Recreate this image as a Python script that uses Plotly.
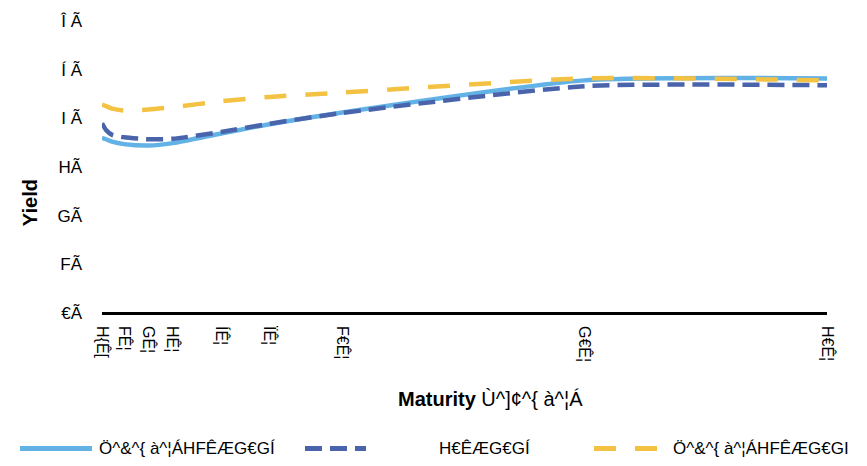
import plotly.graph_objects as go

# Maturities in years and the three yield curves (percent)
maturities = [1/12, 0.25, 0.5, 1, 2, 3, 5, 7, 10, 20, 30]
curve_a = [3.60, 3.57, 3.52, 3.47, 3.44, 3.49, 3.69, 3.88, 4.12, 4.78, 4.82]
curve_b = [3.90, 3.76, 3.66, 3.61, 3.57, 3.58, 3.72, 3.89, 4.11, 4.66, 4.68]
curve_c = [4.28, 4.25, 4.20, 4.16, 4.18, 4.23, 4.35, 4.44, 4.53, 4.82, 4.78]

series_names = ["Ö^&^{ à^¦ÁHFÊÆG€GÍ", "H€ÊÆG€GÍ", "Ö^&^{ à^¦ÁHFÊÆG€GI"]

x_tickvals = [1/12, 1, 2, 3, 5, 7, 10, 20, 30]
x_ticktext = ["H{Ê[", "FÊ¦", "GÊ¦", "HÊ¦", "ÍÊ¦", "ÏÊ¦", "F€Ê¦", "G€Ê¦", "H€Ê¦"]
y_tickvals = [0, 1, 2, 3, 4, 5, 6]
y_ticktext = ["€Ã", "FÃ", "GÃ", "HÃ", "I Ã", "Í Ã", "Î Ã"]

x_title = "<b>Maturity</b> Ù^]¢^{ à^¦Á"
y_title = "<b>Yield</b>"

FONT = "Liberation Sans, Arial, sans-serif"
colors = ["#62B2E6", "#4A64AC", "#F4C242"]
dashes = ["solid", "17px,8px", "22px,19px"]

fig = go.Figure()
for vals, name, col, dash in zip([curve_a, curve_b, curve_c], series_names, colors, dashes):
    fig.add_trace(go.Scatter(
        x=maturities, y=vals, name=name, mode="lines",
        line=dict(color=col, width=4.5, dash=dash, shape="spline", smoothing=0.6),
        showlegend=False,
    ))

# plot area in pixels: x 102..827, y 18..313
L, R, T, B = 102, 40, 18, 153
W, H = 867, 466
pw, ph = W - L - R, H - T - B

def px_x(px):
    return (px - L) / pw

def px_y(py):
    return (H - B - py) / ph

# custom legend: long line samples followed by the series labels
legend_items = [
    (20, 92, 97),
    (305, 366, 437),
    (594, 660, 671),
]
ly = 450
for (x0, x1, tx), name, col, dash in zip(legend_items, series_names, colors, dashes):
    fig.add_shape(type="line", xref="paper", yref="paper",
                  x0=px_x(x0), x1=px_x(x1), y0=px_y(ly), y1=px_y(ly),
                  line=dict(color=col, width=5, dash=dash))
    fig.add_annotation(xref="paper", yref="paper", x=px_x(tx), y=px_y(ly),
                       text=name, showarrow=False, xanchor="left", yanchor="middle",
                       font=dict(family=FONT, size=17, color="#000000"))

fig.add_annotation(xref="paper", yref="paper", x=px_x(490), y=px_y(400),
                   text=x_title, showarrow=False, xanchor="center", yanchor="middle",
                   font=dict(family=FONT, size=20, color="#000000"))
fig.add_annotation(xref="paper", yref="paper", x=px_x(30), y=px_y(202),
                   text=y_title, showarrow=False, textangle=-90,
                   xanchor="center", yanchor="middle",
                   font=dict(family=FONT, size=20, color="#000000"))

fig.update_layout(
    width=W, height=H,
    margin=dict(l=L, r=R, t=T, b=B),
    paper_bgcolor="white", plot_bgcolor="white",
    font=dict(family=FONT, size=17, color="#000000"),
    xaxis=dict(range=[1/12, 30], tickvals=x_tickvals, ticktext=x_ticktext,
               tickangle=90, showgrid=False, zeroline=False,
               showline=False, ticks="", ticklabelstandoff=12,
               tickfont=dict(family=FONT, size=16, color="#000000")),
    yaxis=dict(range=[0, 6], tickvals=y_tickvals, ticktext=y_ticktext,
               showgrid=False, zeroline=True, zerolinecolor="#000000",
               zerolinewidth=3, showline=False, ticks="",
               ticklabelstandoff=19,
               tickfont=dict(family=FONT, size=17, color="#000000")),
)

fig.write_html("out.html")
